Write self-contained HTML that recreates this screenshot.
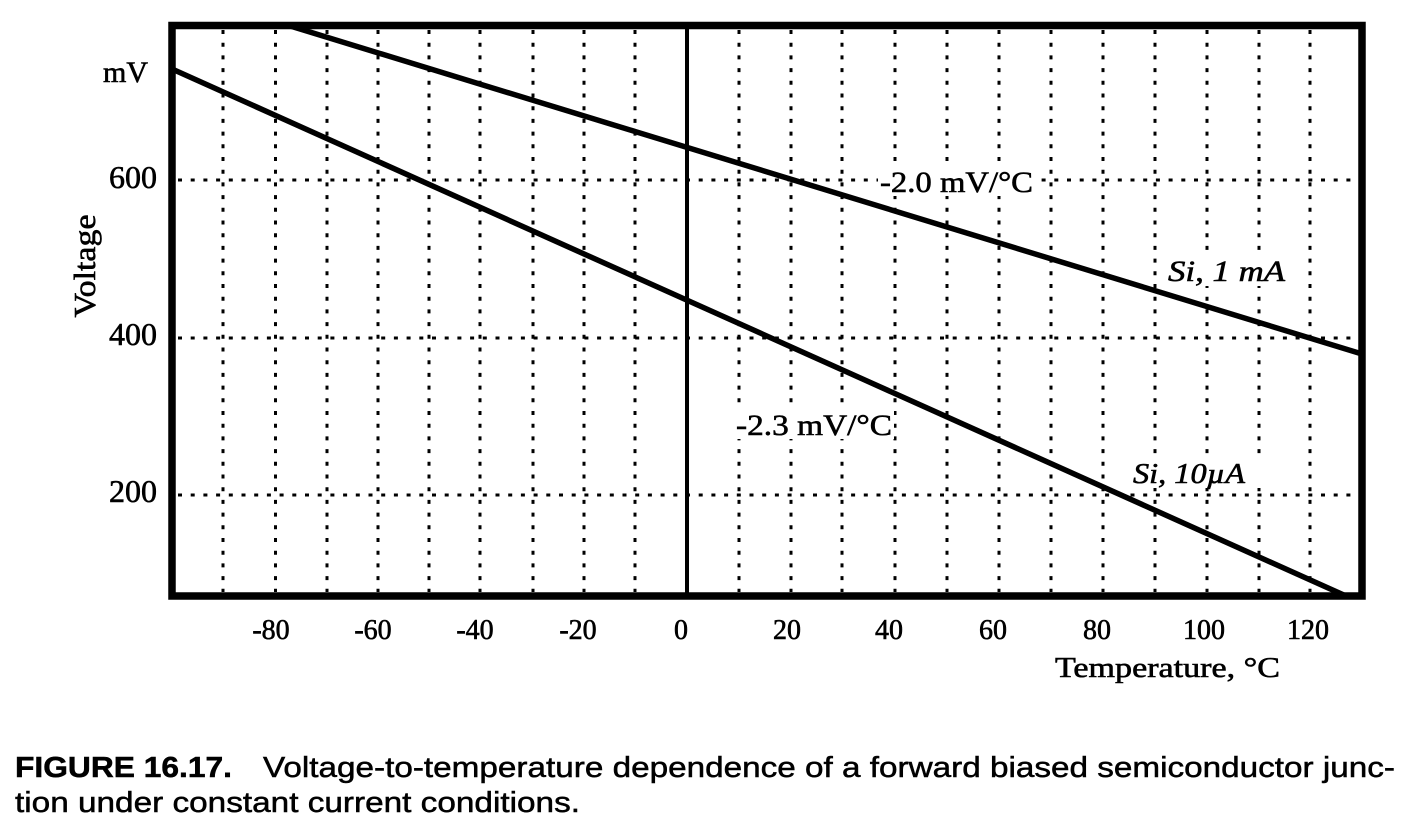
<!DOCTYPE html>
<html>
<head>
<meta charset="utf-8">
<style>
  html, body { margin:0; padding:0; background:#fff; }
  svg { display:block; }
  .serif { font-family: "Liberation Serif", "DejaVu Serif", serif; fill:#000; stroke:#000; stroke-width:0.6; }
  .sans { font-family: "Liberation Sans", "DejaVu Sans", sans-serif; fill:#000; stroke:#000; stroke-width:0.5; }
</style>
</head>
<body>
<svg width="1425" height="836" viewBox="0 0 1425 836" xmlns="http://www.w3.org/2000/svg">
  <rect x="0" y="0" width="1425" height="836" fill="#fff"/>

  <!-- vertical dotted grid lines -->
  <g stroke="#000" stroke-width="3" stroke-dasharray="4 8.7" fill="none">
    <line x1="223" y1="30" x2="223" y2="592"/>
    <line x1="275.5" y1="30" x2="275.5" y2="592"/>
    <line x1="327" y1="30" x2="327" y2="592"/>
    <line x1="378" y1="30" x2="378" y2="592"/>
    <line x1="429" y1="30" x2="429" y2="592"/>
    <line x1="480" y1="30" x2="480" y2="592"/>
    <line x1="533" y1="30" x2="533" y2="592"/>
    <line x1="584" y1="30" x2="584" y2="592"/>
    <line x1="635" y1="30" x2="635" y2="592"/>
    <line x1="739" y1="30" x2="739" y2="592"/>
    <line x1="791" y1="30" x2="791" y2="592"/>
    <line x1="842" y1="30" x2="842" y2="592"/>
    <line x1="895" y1="30" x2="895" y2="592"/>
    <line x1="947" y1="30" x2="947" y2="592"/>
    <line x1="999" y1="30" x2="999" y2="592"/>
    <line x1="1051" y1="30" x2="1051" y2="592"/>
    <line x1="1103" y1="30" x2="1103" y2="592"/>
    <line x1="1155" y1="30" x2="1155" y2="592"/>
    <line x1="1207" y1="30" x2="1207" y2="592"/>
    <line x1="1259" y1="30" x2="1259" y2="592"/>
    <line x1="1310" y1="30" x2="1310" y2="592"/>
  </g>
  <!-- horizontal dotted grid lines -->
  <g stroke="#000" stroke-width="3" stroke-dasharray="4 8.7" fill="none">
    <line x1="178" y1="180" x2="1358" y2="180"/>
    <line x1="178" y1="338" x2="1358" y2="338"/>
    <line x1="178" y1="495" x2="1358" y2="495"/>
  </g>

  <!-- zero line -->
  <line x1="687" y1="25" x2="687" y2="596" stroke="#000" stroke-width="4"/>

  <!-- series lines -->
  <line x1="287" y1="25" x2="1362" y2="354" stroke="#000" stroke-width="5.5"/>
  <line x1="172" y1="69" x2="1346" y2="596" stroke="#000" stroke-width="5.5"/>

  <!-- frame -->
  <rect x="172" y="25.5" width="1190" height="570.5" fill="none" stroke="#000" stroke-width="7.5"/>

  <!-- annotation labels with white backgrounds -->
  <rect x="878" y="166" width="158" height="30" fill="#fff"/>
  <text class="serif" x="880" y="192" font-size="30" textLength="153" lengthAdjust="spacingAndGlyphs">-2.0 mV/°C</text>

  <rect x="734" y="409" width="160" height="30" fill="#fff"/>
  <text class="serif" x="736" y="435" font-size="30" textLength="156" lengthAdjust="spacingAndGlyphs">-2.3 mV/°C</text>

  <rect x="1164" y="256" width="125" height="30" fill="#fff"/>
  <text class="serif" x="1168" y="281" font-size="30" font-style="italic" textLength="117" lengthAdjust="spacingAndGlyphs">Si,  1 mA</text>

  <rect x="1129" y="460" width="160" height="28" fill="#fff"/>
  <text class="serif" x="1133" y="483" font-size="29" font-style="italic" textLength="112" lengthAdjust="spacingAndGlyphs">Si, 10µA</text>

  <!-- y axis labels -->
  <text class="serif" x="148" y="82" font-size="30" text-anchor="end" textLength="45" lengthAdjust="spacingAndGlyphs">mV</text>
  <text class="serif" x="157" y="188" font-size="32" text-anchor="end" textLength="48" lengthAdjust="spacingAndGlyphs">600</text>
  <text class="serif" x="157" y="345" font-size="32" text-anchor="end" textLength="48" lengthAdjust="spacingAndGlyphs">400</text>
  <text class="serif" x="157" y="502" font-size="32" text-anchor="end" textLength="48" lengthAdjust="spacingAndGlyphs">200</text>
  <text class="serif" x="0" y="0" font-size="31" text-anchor="middle" transform="translate(95,266) rotate(-90)" textLength="103" lengthAdjust="spacingAndGlyphs">Voltage</text>

  <!-- x axis labels -->
  <g class="serif" font-size="28" text-anchor="middle">
    <text x="271" y="639">-80</text>
    <text x="373" y="639">-60</text>
    <text x="475" y="639">-40</text>
    <text x="578" y="639">-20</text>
    <text x="681" y="639">0</text>
    <text x="787" y="639">20</text>
    <text x="889" y="639">40</text>
    <text x="993" y="639">60</text>
    <text x="1097" y="639">80</text>
    <text x="1204" y="639">100</text>
    <text x="1308" y="639">120</text>
  </g>
  <text class="serif" x="1055" y="677" font-size="29" textLength="225" lengthAdjust="spacingAndGlyphs">Temperature,  °C</text>

  <!-- caption -->
  <text class="sans" x="15" y="777" font-size="29" font-weight="bold" textLength="217" lengthAdjust="spacingAndGlyphs">FIGURE 16.17.</text>
  <text class="sans" x="263" y="777" font-size="29" textLength="1132" lengthAdjust="spacingAndGlyphs">Voltage-to-temperature dependence of a forward biased semiconductor junc-</text>
  <text class="sans" x="15" y="812" font-size="29" textLength="565" lengthAdjust="spacingAndGlyphs">tion under constant current conditions.</text>
</svg>
</body>
</html>
